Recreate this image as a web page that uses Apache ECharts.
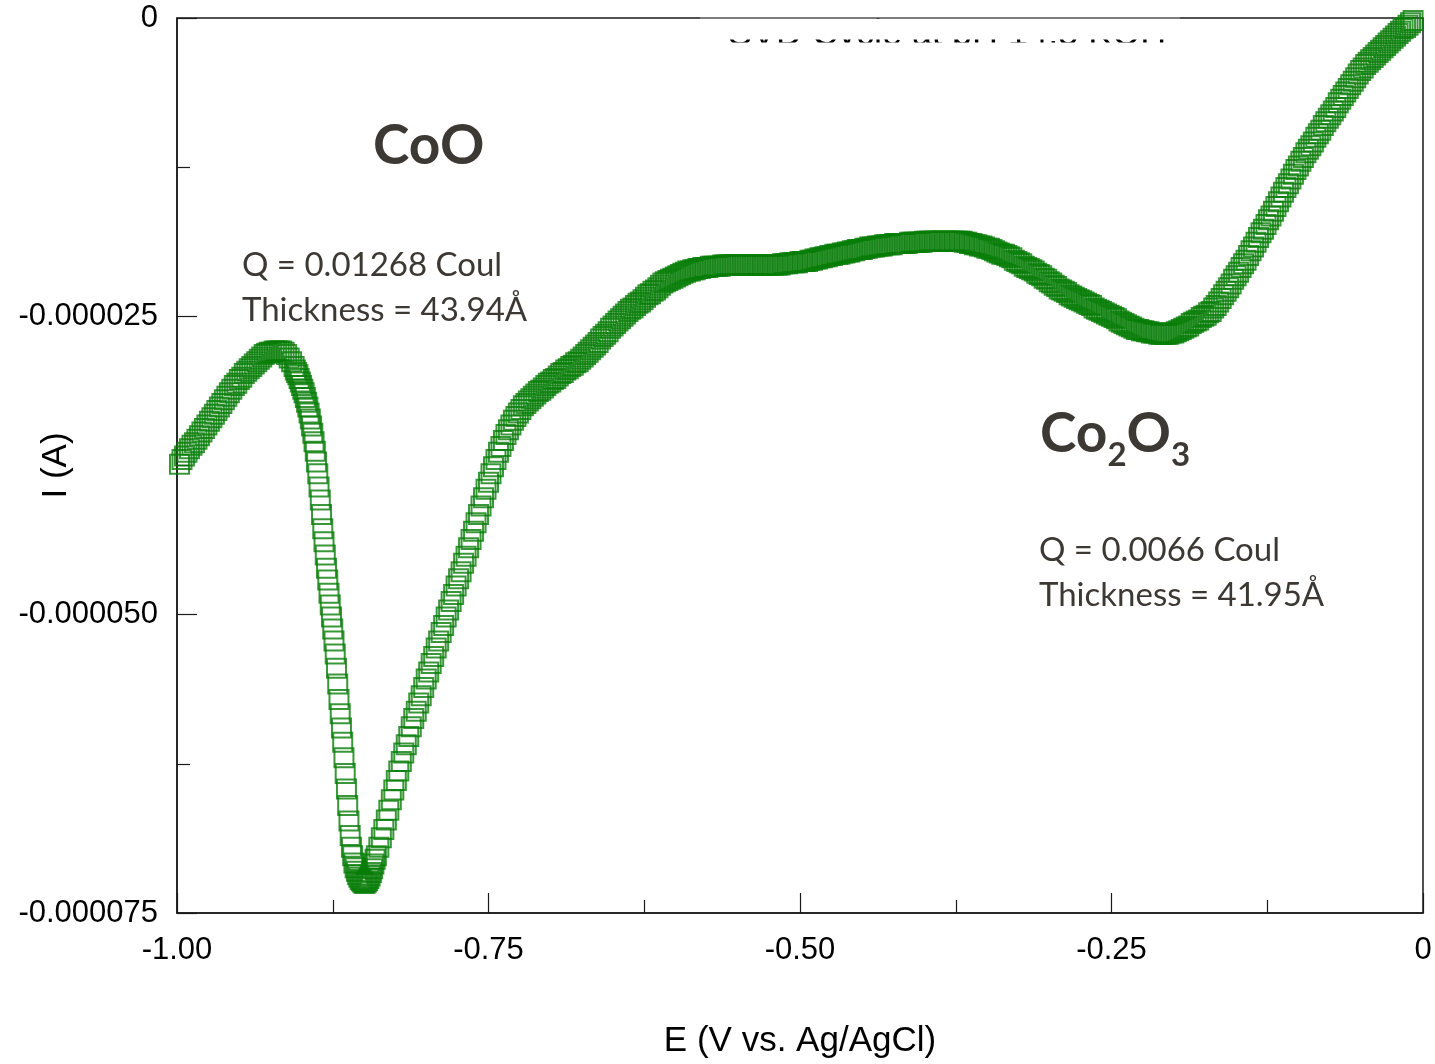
<!DOCTYPE html>
<html>
<head>
<meta charset="utf-8">
<script src="https://cdn.jsdelivr.net/npm/echarts@6/dist/echarts.min.js"></script>
<style>
html,body{margin:0;padding:0;background:#fff;}
#c{width:1435px;height:1064px;}
</style>
</head>
<body>
<div id="c"></div>
<script>
// ---------------- DATA ----------------
// Potential in mV, current in microamperes (axis labels show amperes).
// Segment 1: -998 mV .. -906 mV, 2 mV steps (rows of 10 samples)
const seg1StartMv = -998, seg1StepMv = 2;
const seg1Current = [
  [-37.4, -37.0, -36.7, -36.4, -36.1, -35.8, -35.6, -35.3, -35.0, -34.7],
  [-34.4, -34.1, -33.8, -33.5, -33.2, -32.9, -32.6, -32.3, -32.0, -31.7],
  [-31.4, -31.1, -30.8, -30.6, -30.3, -30.1, -29.8, -29.6, -29.4, -29.2],
  [-29.0, -28.8, -28.6, -28.4, -28.2, -28.1, -28.0, -28.0, -27.9, -27.9],
  [-27.9, -27.9, -28.0, -28.2, -28.5, -28.8, -29.2]
];
// Segment 2: -905 mV .. -841 mV, 1 mV steps (CoO reduction peak)
const seg2StartMv = -905, seg2StepMv = 1;
const seg2Current = [
  [-29.5, -29.7, -29.9, -30.2, -30.5, -30.8, -31.1, -31.4, -31.8, -32.2],
  [-32.6, -33.1, -33.6, -34.2, -34.8, -35.5, -36.3, -37.2, -38.2, -39.3],
  [-40.4, -41.6, -42.8, -43.9, -45.0, -46.1, -47.1, -48.2, -49.2, -50.2],
  [-51.2, -52.2, -53.3, -54.5, -55.8, -57.1, -58.3, -59.5, -60.7, -62.0],
  [-63.3, -64.6, -66.0, -67.3, -68.5, -69.5, -70.2, -70.8, -71.2, -71.5],
  [-71.8, -72.0, -72.2, -72.3, -72.4, -72.5, -72.5, -72.4, -72.3, -72.1],
  [-71.9, -71.6, -71.3, -70.9, -70.5]
];
// Segment 3: -840 mV .. -8 mV, 2 mV steps
const seg3StartMv = -840, seg3StepMv = 2;
const seg3Current = [
  [-70.2, -69.5, -68.7, -68.0, -67.2, -66.4, -65.5, -64.7, -63.9, -63.1],
  [-62.3, -61.6, -60.9, -60.2, -59.4, -58.7, -58.1, -57.4, -56.8, -56.1],
  [-55.4, -54.8, -54.1, -53.5, -52.8, -52.2, -51.5, -50.9, -50.2, -49.6],
  [-48.9, -48.3, -47.6, -47.0, -46.4, -45.7, -45.1, -44.4, -43.7, -43.0],
  [-42.3, -41.6, -40.9, -40.2, -39.5, -38.9, -38.2, -37.6, -37.0, -36.4],
  [-35.9, -35.4, -34.9, -34.5, -34.1, -33.7, -33.4, -33.1, -32.8, -32.5],
  [-32.3, -32.1, -31.9, -31.7, -31.5, -31.3, -31.2, -31.0, -30.8, -30.6],
  [-30.5, -30.3, -30.2, -30.0, -29.8, -29.7, -29.5, -29.4, -29.2, -29.1],
  [-28.9, -28.8, -28.6, -28.4, -28.2, -28.0, -27.8, -27.6, -27.4, -27.2],
  [-26.9, -26.7, -26.5, -26.3, -26.0, -25.8, -25.6, -25.4, -25.2, -25.0],
  [-24.8, -24.6, -24.4, -24.3, -24.1, -23.9, -23.8, -23.6, -23.4, -23.2],
  [-23.1, -22.9, -22.8, -22.6, -22.4, -22.2, -22.1, -22.0, -21.9, -21.8],
  [-21.7, -21.6, -21.5, -21.4, -21.3, -21.2, -21.2, -21.1, -21.1, -21.0],
  [-21.0, -20.9, -20.9, -20.9, -20.8, -20.8, -20.8, -20.8, -20.8, -20.7],
  [-20.7, -20.7, -20.7, -20.7, -20.7, -20.7, -20.7, -20.7, -20.7, -20.7],
  [-20.7, -20.7, -20.7, -20.7, -20.7, -20.7, -20.7, -20.7, -20.7, -20.7],
  [-20.7, -20.7, -20.7, -20.6, -20.6, -20.6, -20.5, -20.5, -20.5, -20.5],
  [-20.4, -20.4, -20.4, -20.4, -20.3, -20.3, -20.2, -20.2, -20.1, -20.1],
  [-20.0, -20.0, -19.9, -19.9, -19.8, -19.8, -19.8, -19.7, -19.7, -19.6],
  [-19.6, -19.5, -19.5, -19.4, -19.4, -19.4, -19.3, -19.3, -19.2, -19.2],
  [-19.2, -19.1, -19.1, -19.1, -19.0, -19.0, -19.0, -19.0, -18.9, -18.9],
  [-18.9, -18.9, -18.9, -18.9, -18.8, -18.8, -18.8, -18.8, -18.8, -18.8],
  [-18.7, -18.7, -18.7, -18.7, -18.7, -18.7, -18.7, -18.7, -18.7, -18.7],
  [-18.7, -18.7, -18.7, -18.7, -18.7, -18.7, -18.8, -18.8, -18.9, -18.9],
  [-19.0, -19.0, -19.1, -19.1, -19.2, -19.3, -19.3, -19.4, -19.5, -19.6],
  [-19.7, -19.8, -19.8, -19.9, -20.0, -20.1, -20.3, -20.4, -20.5, -20.6],
  [-20.8, -20.9, -21.0, -21.1, -21.2, -21.4, -21.5, -21.6, -21.8, -21.9],
  [-22.1, -22.2, -22.4, -22.5, -22.7, -22.8, -22.9, -23.0, -23.2, -23.3],
  [-23.4, -23.5, -23.6, -23.7, -23.8, -23.9, -24.0, -24.1, -24.3, -24.4],
  [-24.5, -24.6, -24.7, -24.8, -24.9, -25.0, -25.1, -25.2, -25.4, -25.5],
  [-25.6, -25.7, -25.8, -25.9, -26.0, -26.1, -26.1, -26.2, -26.2, -26.3],
  [-26.3, -26.4, -26.4, -26.4, -26.5, -26.5, -26.5, -26.5, -26.5, -26.4],
  [-26.4, -26.3, -26.2, -26.1, -26.0, -25.9, -25.8, -25.6, -25.5, -25.4],
  [-25.3, -25.1, -25.0, -24.9, -24.7, -24.6, -24.3, -24.1, -23.8, -23.5],
  [-23.2, -22.9, -22.6, -22.3, -21.9, -21.6, -21.3, -20.9, -20.6, -20.3],
  [-19.9, -19.5, -19.2, -18.8, -18.4, -18.0, -17.7, -17.3, -16.9, -16.6],
  [-16.2, -15.8, -15.4, -15.0, -14.6, -14.2, -13.9, -13.5, -13.1, -12.7],
  [-12.4, -12.0, -11.7, -11.3, -11.0, -10.7, -10.4, -10.0, -9.7, -9.4],
  [-9.0, -8.7, -8.4, -8.1, -7.8, -7.5, -7.1, -6.8, -6.5, -6.2],
  [-5.9, -5.6, -5.3, -5.0, -4.7, -4.4, -4.2, -3.9, -3.7, -3.5],
  [-3.3, -3.1, -2.9, -2.7, -2.5, -2.3, -2.1, -1.9, -1.7, -1.5],
  [-1.3, -1.1, -0.9, -0.8, -0.6, -0.4, -0.2]
];

const xTicks = [-1.00, -0.75, -0.50, -0.25, 0];
const yTicksMicroA = [-75, -50, -25, 0];

const xAxisTitle = 'E (V vs. Ag/AgCl)';
const yAxisTitle = 'I (A)';
const hiddenTitle = 'SVD Cycle at pH 14.5 KOH';
const peak1Label = 'CoO';
const peak1Q = 'Q = 0.01268 Coul';
const peak1T = 'Thickness = 43.94Å';
const peak2Q = 'Q = 0.0066 Coul';
const peak2T = 'Thickness = 41.95Å';

// ---------------- BUILD ----------------
const points = [];
function addSegment(startMv, stepMv, rows) {
  rows.forEach((row, r) => {
    row.forEach((v, i) => {
      const mv = startMv + (r * 10 + i) * stepMv;
      points.push([mv / 1000, v]);
    });
  });
}
addSegment(seg1StartMv, seg1StepMv, seg1Current);
addSegment(seg2StartMv, seg2StepMv, seg2Current);
addSegment(seg3StartMv, seg3StepMv, seg3Current);

const textColor = '#3c3833';
const annoFont = '33px Lato';
const boldFont = 'bold 55px Lato';
const subFont = 'bold 33px Lato';

const mctx = document.createElement('canvas').getContext('2d');
function w(text, font) { mctx.font = font; return mctx.measureText(text).width; }

const xCo = 1040;
const x2 = xCo + w('Co', boldFont);
const xO = x2 + w('2', subFont);
const x3 = xO + w('O', boldFont);

const chart = echarts.init(document.getElementById('c'), null, { renderer: 'canvas' });
const axisFont = "'Liberation Sans', Arial, sans-serif";
const axisColor = '#1a1a1a';

chart.setOption({
  animation: false,
  backgroundColor: '#ffffff',
  grid: {
    left: 177, right: 12, top: 18, bottom: 151,
    containLabel: false, outerBoundsMode: 'none',
    show: true, borderColor: axisColor, borderWidth: 1.5, backgroundColor: 'transparent'
  },
  xAxis: {
    type: 'value',
    min: xTicks[0], max: xTicks[xTicks.length - 1], interval: 0.25,
    name: xAxisTitle, nameLocation: 'middle', nameGap: 111, nameMoveOverlap: false,
    nameTextStyle: { fontFamily: axisFont, fontSize: 35, color: '#000' },
    axisLine: { show: true, onZero: false, lineStyle: { color: axisColor, width: 1.5 } },
    axisTick: { show: true, inside: true, length: 20, lineStyle: { color: axisColor, width: 1.2 } },
    minorTick: { show: true, splitNumber: 2, length: 13, lineStyle: { color: axisColor, width: 1.2 } },
    splitLine: { show: false },
    axisLabel: {
      fontFamily: axisFont, fontSize: 31, color: '#000', margin: 22,
      formatter: v => (v === 0 ? '0' : v.toFixed(2))
    }
  },
  yAxis: {
    type: 'value',
    min: yTicksMicroA[0], max: yTicksMicroA[yTicksMicroA.length - 1], interval: 25,
    name: yAxisTitle, nameLocation: 'middle', nameGap: 103, nameMoveOverlap: false,
    nameTextStyle: { fontFamily: axisFont, fontSize: 35, color: '#000' },
    axisLine: { show: true, onZero: false, lineStyle: { color: axisColor, width: 1.5 } },
    axisTick: { show: true, inside: true, length: 20, lineStyle: { color: axisColor, width: 1.2 } },
    minorTick: { show: true, splitNumber: 2, length: 13, lineStyle: { color: axisColor, width: 1.2 } },
    splitLine: { show: false },
    axisLabel: {
      fontFamily: axisFont, fontSize: 31, color: '#000', margin: 19,
      formatter: v => (v === 0 ? '0' : (v / 1e6).toFixed(6))
    }
  },
  series: [{
    type: 'scatter',
    data: points,
    symbol: 'rect',
    symbolSize: 19,
    silent: true,
    itemStyle: { color: 'rgba(0,0,0,0)', borderColor: '#077d07', borderWidth: 2 }
  }],
  graphic: [
    { type: 'text', x: 728, y: 35, z: 50, silent: true,
      style: { text: hiddenTitle, font: "36px 'Liberation Sans', Arial, sans-serif", fill: '#000', align: 'left', verticalAlign: 'middle' } },
    { type: 'rect', z: 51, silent: true,
      shape: { x: 700, y: 0, width: 480, height: 17.2 }, style: { fill: '#ffffff' } },
    { type: 'rect', z: 51, silent: true,
      shape: { x: 700, y: 18.8, width: 480, height: 20.7 }, style: { fill: '#ffffff' } },
    { type: 'rect', z: 51, silent: true,
      shape: { x: 700, y: 42.5, width: 480, height: 14 }, style: { fill: '#ffffff' } },
    { type: 'text', x: 373, y: 146, z: 60,
      style: { text: peak1Label, font: boldFont, fill: textColor, align: 'left', verticalAlign: 'middle' } },
    { type: 'text', x: 242, y: 265, z: 60,
      style: { text: peak1Q, font: annoFont, fill: textColor, align: 'left', verticalAlign: 'middle' } },
    { type: 'text', x: 242, y: 310, z: 60,
      style: { text: peak1T, font: annoFont, fill: textColor, align: 'left', verticalAlign: 'middle' } },
    { type: 'text', x: xCo, y: 434, z: 60,
      style: { text: 'Co', font: boldFont, fill: textColor, align: 'left', verticalAlign: 'middle' } },
    { type: 'text', x: x2, y: 455, z: 60,
      style: { text: '2', font: subFont, fill: textColor, align: 'left', verticalAlign: 'middle' } },
    { type: 'text', x: xO, y: 434, z: 60,
      style: { text: 'O', font: boldFont, fill: textColor, align: 'left', verticalAlign: 'middle' } },
    { type: 'text', x: x3, y: 455, z: 60,
      style: { text: '3', font: subFont, fill: textColor, align: 'left', verticalAlign: 'middle' } },
    { type: 'text', x: 1039, y: 550, z: 60,
      style: { text: peak2Q, font: annoFont, fill: textColor, align: 'left', verticalAlign: 'middle' } },
    { type: 'text', x: 1039, y: 595, z: 60,
      style: { text: peak2T, font: annoFont, fill: textColor, align: 'left', verticalAlign: 'middle' } }
  ]
});
</script>
</body>
</html>
